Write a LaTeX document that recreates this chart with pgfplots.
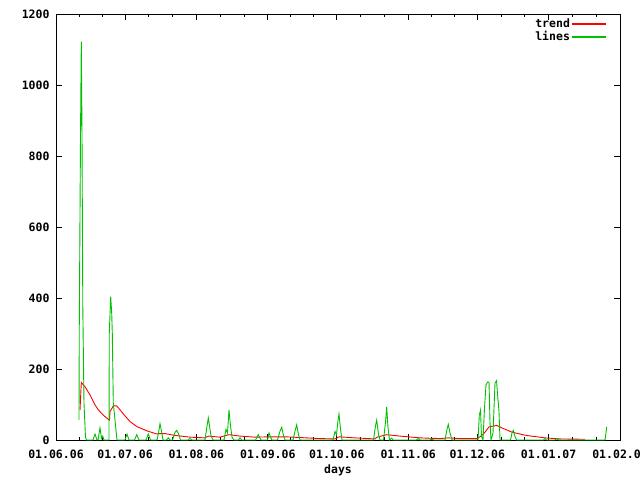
\documentclass[border=0pt]{standalone}
\usepackage{fontspec}
\setmainfont{DejaVu Sans Mono}
\usepackage{pgfplots}
\pgfplotsset{compat=1.18}
\definecolor{gpgreen}{RGB}{0,192,0}
\definecolor{gpred}{RGB}{255,0,0}
\begin{document}
\begin{tikzpicture}[font=\fontsize{11.5}{13.5}\selectfont\bfseries]
\path[use as bounding box] (-56pt,-40pt) rectangle (584pt,440pt);
\begin{axis}[
  at={(0,0)}, anchor=south west,
  scale only axis, width=564pt, height=426pt,
  xmin=0, xmax=245, ymin=0, ymax=1200,
  axis line style={line width=0.8pt},
  xtick={0,30,61,92,122,153,183,214,245},
  xticklabels={01.06.06,01.07.06,01.08.06,01.09.06,01.10.06,01.11.06,01.12.06,01.01.07,01.02.07},
  minor xtick={10,20,40.33,50.67,71.33,81.67,102,112,132.33,142.67,163,173,193.33,203.67,224.33,234.67},
  ytick={0,200,400,600,800,1000,1200},
  tick align=inside,
  major tick length=6pt, minor tick length=3pt,
  tick style={black, line width=0.8pt},
  /pgf/number format/assume math mode=true,
  /pgf/number format/1000 sep={},
  yticklabel style={xshift=-3pt},
  xticklabel style={yshift=-6pt},
  xlabel={days},
  xlabel style={yshift=0pt},
  legend style={at={(0.977,0.997)}, anchor=north east, draw=none, fill=none,
    row sep=-1.5pt, inner sep=1pt},
  legend cell align=right,
  legend plot pos=right,
]
\addplot[color=gpred, line width=0.9pt,
  legend image code/.code={\pgfsetfillcolor{gpred}\pgfsetstrokecolor{gpred}\fill[gpred] (0pt,-0.5pt) rectangle (33pt,0.5pt);}] coordinates {
(10.43,84) (10.99,162) (12.60,150) (14.77,127) (16.94,99) (18.38,85) (20.55,70)
(22.72,58) (23.24,56) (23.46,80) (24.89,96) (26.37,96) (27.80,85) (29.97,68)
(32.15,52) (35.06,38) (39.40,26) (43.74,17) (45.18,18) (47.35,18) (51.69,13)
(58.21,8) (64.73,6) (66.16,11) (71.24,8) (75.15,15) (79.93,11) (86.45,8)
(92.96,9) (99.48,9) (106.0,7) (114.68,4) (121.20,3) (122.94,9) (129.89,6)
(138.57,3) (139.44,8) (143.66,15) (149.44,11) (158.12,6) (166.81,4) (170.42,6)
(175.50,4) (182.89,4) (184.62,11) (186.36,22) (188.10,37) (191.44,41) (193.74,34)
(198.09,22) (204.17,13) (212.42,6) (218.93,3) (229.80,2)
};
\addlegendentry{trend}
\addplot[color=gpgreen, line width=0.9pt,
  legend image code/.code={\pgfsetfillcolor{gpgreen}\pgfsetstrokecolor{gpgreen}\fill[gpgreen] (0pt,-0.5pt) rectangle (33pt,0.5pt);}] coordinates {
(9.99,56) (10.12,324) (10.64,853) (10.99,1122) (11.29,870) (11.64,375) (12.16,104)
(12.81,8) (13.25,0)
(16.07,0) (16.94,17) (17.81,0)
(18.25,0) (19.11,34) (19.77,5) (20.29,11) (20.85,0)
(23.02,0) (23.15,301) (23.76,404) (24.20,357) (24.46,300) (24.89,104) (25.63,56) (26.50,0)
(29.97,0) (30.84,17) (31.71,0)
(34.10,0) (35.06,15) (36.06,0)
(39.10,0) (40.10,17) (41.05,0)
(43.87,0) (44.53,20) (45.18,46) (45.83,25) (46.48,0)
(48.00,0) (48.78,6) (49.52,0)
(50.61,0) (51.69,22) (52.43,27) (53.21,18) (54.08,0)
(57.34,0) (58.21,4) (59.08,0)
(64.73,0) (65.38,30) (66.16,62) (66.68,40) (67.33,12) (68.20,0)
(72.98,0) (73.85,30) (74.50,20) (75.15,85) (75.80,40) (76.46,8) (77.32,0)
(79.28,0) (79.93,6) (80.58,0)
(86.66,0) (87.88,15) (89.05,0)
(91.88,0) (92.53,20) (93.18,8) (93.83,0)
(96.22,0) (97.31,25) (98.05,36) (98.83,12) (99.48,0)
(102.95,0) (103.82,25) (104.56,43) (105.34,15) (106.0,0)
(120.33,0) (121.20,24) (121.85,15) (122.50,55) (122.94,73) (123.59,30) (124.24,0)
(137.92,0) (138.79,40) (139.31,56) (140.10,15) (140.75,0)
(142.27,0) (143.14,50) (143.66,93) (144.22,35) (144.87,0) (145.83,5) (146.39,0)
(156.60,0) (157.38,4) (158.12,0)
(162.47,0) (163.21,3) (163.99,0)
(168.98,0) (169.85,30) (170.42,44) (171.16,20) (172.02,0)
(183.32,0) (183.88,70) (184.40,84) (184.84,10) (185.49,0) (186.14,90) (186.79,155)
(187.45,163) (188.10,163) (188.53,50) (188.97,0) (189.84,20) (190.70,160) (191.36,167)
(191.79,130) (192.44,80) (192.88,0)
(197.44,0) (198.09,20) (198.65,27) (199.39,10) (200.04,0)
(211.77,0) (212.42,4) (213.08,0)
(216.77,0) (217.51,4) (218.29,0)
(229.80,0) (238.49,0) (238.92,20) (239.22,37)
};
\addlegendentry{lines}
\end{axis}
\end{tikzpicture}
\end{document}
